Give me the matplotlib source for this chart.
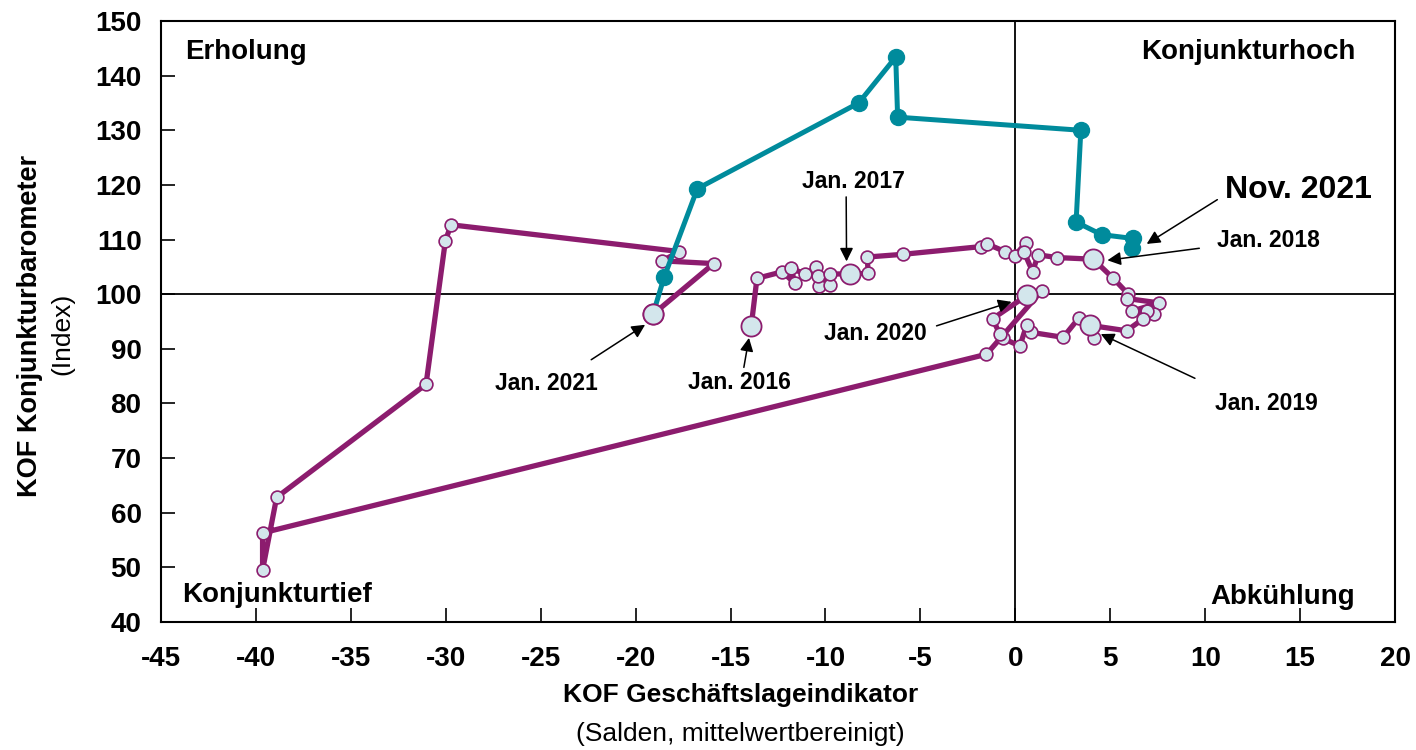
import matplotlib
matplotlib.use("Agg")
import matplotlib.pyplot as plt

plt.rcParams.update({"font.family": "Liberation Sans", "axes.unicode_minus": False})

C_HIST, C_2021, C_FACE = "#8c1c6e", "#008b9c", "#d3e6ec"

# KOF Geschaeftslage (x) vs Konjunkturbarometer (y), Jan 2016 - Jan 2021
hist_x = [-13.91, -13.61, -12.27, -11.62, -11.80, -11.06, -10.48, -10.34, -10.40, -9.78, -9.78,
          -8.72, -7.76, -7.79, -5.91, -1.83, -1.49, -0.55, -0.03, 0.55, 0.45, 0.91, 1.20, 2.20,
          4.10, 5.16, 5.95, 5.89, 7.58, 6.13, 7.30, 6.93, 6.74, 5.86,
          3.93, 4.14, 3.36, 2.52, 0.85, 0.59, 0.24, -0.64, -0.82, -1.20,
          0.62, 1.38, -1.52, -39.65, -39.65, -38.91, -31.04, -30.02, -29.72, -17.69, -18.60, -15.89,
          -19.09]
hist_y = [94.2, 102.9, 104.1, 102.0, 104.7, 103.7, 104.9, 101.5, 103.4, 101.7, 103.7,
          103.7, 103.8, 106.8, 107.3, 108.7, 109.2, 107.8, 107.0, 109.4, 107.8, 104.1, 107.2, 106.7,
          106.4, 102.9, 100.0, 99.2, 98.4, 96.9, 96.3, 96.9, 95.5, 93.3,
          94.3, 91.9, 95.7, 92.1, 93.0, 94.3, 90.5, 91.9, 92.7, 95.5,
          99.8, 100.6, 89.0, 56.3, 49.5, 62.8, 83.5, 109.8, 112.7, 107.8, 106.1, 105.6,
          96.3]
jan_idx = [0, 11, 24, 34, 44, 56]

# 2021: Feb - Nov
cur_x = [-18.50, -16.75, -8.25, -6.30, -6.20, 3.45, 3.20, 4.54, 6.18, 6.15]
cur_y = [103.1, 119.3, 135.0, 143.4, 132.4, 130.0, 113.2, 110.9, 110.2, 108.5]

# labels: text position, arrow tail, arrow tip
notes = [
    ("Jan. 2016", (-14.52, 83.9), (-14.30, 86.6), (-14.03, 92.0)),
    ("Jan. 2017", (-8.51, 120.6), (-8.91, 117.8), (-8.89, 106.0)),
    ("Jan. 2018", (13.33, 109.9), (9.69, 108.4), (4.85, 106.2)),
    ("Jan. 2019", (13.24, 80.0), (9.46, 84.6), (4.50, 92.7)),
    ("Jan. 2020", (-7.35, 92.8), (-4.15, 94.2), (-0.20, 98.6)),
    ("Jan. 2021", (-24.71, 83.6), (-22.34, 88.0), (-19.50, 94.4)),
    ("Nov. 2021", (14.91, 119.0), (10.64, 117.3), (6.92, 109.2)),
]

fig = plt.figure(figsize=(14.16, 7.5), dpi=100)
ax = fig.add_axes([0.1137, 0.1707, 0.8715, 0.8013])

ax.axhline(100, color="black", lw=1.3, zorder=1)
ax.axvline(0, color="black", lw=1.3, zorder=1)

ax.plot(hist_x, hist_y, "-", color=C_HIST, lw=3.8, zorder=2, solid_capstyle="round")
ax.plot(hist_x, hist_y, "o", ms=9.2, mfc=C_FACE, mec=C_HIST, mew=1.2, zorder=3)
ax.plot([hist_x[i] for i in jan_idx], [hist_y[i] for i in jan_idx], "o", ms=14.5,
        mfc=C_FACE, mec=C_HIST, mew=1.3, zorder=3)

ax.plot([hist_x[-1]] + cur_x, [hist_y[-1]] + cur_y, "-", color=C_2021, lw=3.6, zorder=4)
ax.plot(cur_x, cur_y, "o", ms=11.5, color=C_2021, zorder=5)
ax.plot([hist_x[-1]], [hist_y[-1]], "o", ms=14.5, mfc=C_FACE, mec=C_HIST, mew=1.3, zorder=6)

for txt, pos, tail, tip in notes:
    big = txt.startswith("Nov")
    ax.text(pos[0], pos[1], txt, fontsize=23 if big else 16.5, fontweight="bold",
            ha="center", va="center", zorder=7)
    ax.annotate("", xy=tip, xytext=tail, zorder=7,
                arrowprops=dict(arrowstyle="-|>", color="black", lw=1.1,
                                mutation_scale=20, shrinkA=0, shrinkB=0))

qfont = dict(fontsize=20, fontweight="bold", transform=ax.transAxes, va="center")
ax.text(0.0194, 0.948, "Erholung", ha="left", **qfont)
ax.text(0.9676, 0.948, "Konjunkturhoch", ha="right", **qfont)
ax.text(0.0170, 0.045, "Konjunkturtief", ha="left", **qfont)
ax.text(0.9676, 0.041, "Abkühlung", ha="right", **qfont)

ax.set_xlim(-45, 20)
ax.set_ylim(40, 150)
ax.set_xticks(range(-45, 21, 5))
ax.set_yticks(range(40, 151, 10))
ax.tick_params(direction="in", length=10, width=1.2, labelsize=20, top=False, right=False)
ax.tick_params(axis="x", pad=17)
ax.tick_params(axis="y", pad=14)
for lab in ax.get_xticklabels() + ax.get_yticklabels():
    lab.set_fontweight("bold")
for s in ax.spines.values():
    s.set_linewidth(1.5)

fig.text(0.523, 0.073, "KOF Geschäftslageindikator", fontsize=19, fontweight="bold",
         ha="center", va="center")
fig.text(0.523, 0.022, "(Salden, mittelwertbereinigt)", fontsize=19, ha="center", va="center")
fig.text(0.021, 0.565, "KOF Konjunkturbarometer", fontsize=19.5, fontweight="bold",
         rotation=90, ha="center", va="center")
fig.text(0.044, 0.555, "(Index)", fontsize=19, rotation=90, ha="center", va="center")

fig.savefig("out.png", dpi=100)
